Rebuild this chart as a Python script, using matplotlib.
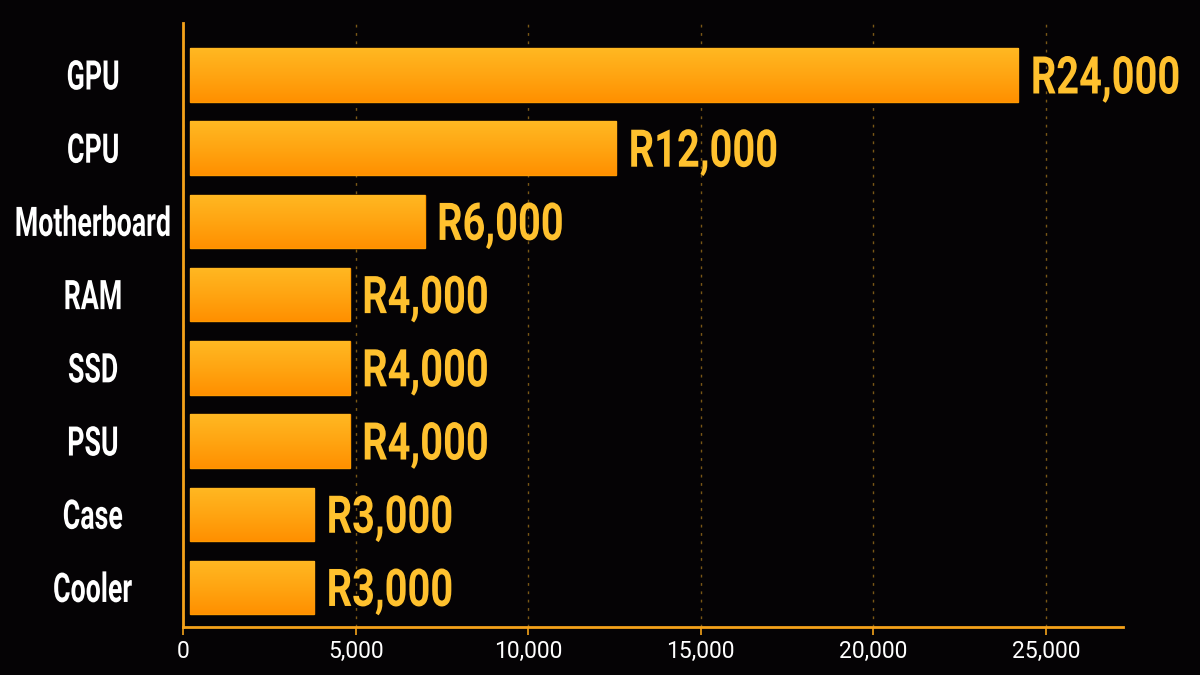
import numpy as np
import matplotlib.pyplot as plt
from matplotlib.colors import LinearSegmentedColormap
from matplotlib.textpath import TextPath
from matplotlib.patches import PathPatch
from matplotlib.font_manager import FontProperties
from matplotlib.transforms import Affine2D

# data
parts = ["GPU", "CPU", "Motherboard", "RAM", "SSD", "PSU", "Case", "Cooler"]
bar_lengths = [24200, 12550, 7000, 4830, 4830, 4830, 3800, 3800]
price_labels = ["R24,000", "R12,000", "R6,000", "R4,000", "R4,000", "R4,000", "R3,000", "R3,000"]
xticks = [0, 5000, 10000, 15000, 20000, 25000]
xtick_labels = ["0", "5,000", "10,000", "15,000", "20,000", "25,000"]

bg = "#050305"
orange = "#F5A21A"
label_gold = "#FFC12E"
bold_font = FontProperties(family=["Roboto", "DejaVu Sans"], weight="bold")

fig = plt.figure(figsize=(12, 6.75), dpi=100, facecolor=bg)
ax = fig.add_axes([0.1525, 0.0711, 0.7833, 0.8948])
ax.set_facecolor(bg)

y = np.arange(len(parts))
gap = 200  # bars start a hair right of the axis line
bars = ax.barh(y, np.array(bar_lengths) - gap, left=gap, height=0.73, color="#FFA60F",
               edgecolor="#FF9A00", linewidth=1, zorder=2)

# vertical gradient on each bar
cmap = LinearSegmentedColormap.from_list("bar", ["#FFB822", "#FFA512", "#FF9000"])
grad = np.linspace(0, 1, 100).reshape(-1, 1)
for b in bars:
    x0, y0 = b.get_x(), b.get_y()
    w, h = b.get_width(), b.get_height()
    im = ax.imshow(grad, cmap=cmap, aspect="auto", origin="upper",
                   extent=[x0, x0 + w, y0 + h, y0], zorder=2.5)
    im.set_clip_path(b)
ax.set_xlim(0, 27230)
ax.set_ylim(7.54, -0.71)


def squeezed_scale(ref_text, cap_px, width_px):
    # horizontal / vertical scale so the font looks condensed like the original
    cap = TextPath((0, 0), "H", size=1, prop=bold_font).get_extents().height
    sy = cap_px / cap
    wid = TextPath((0, 0), ref_text, size=1, prop=bold_font).get_extents().width
    sx = width_px / wid
    return sx, sy


def draw_text(s, px, py, sx, sy, ha, color):
    tp = TextPath((0, 0), s, size=1, prop=bold_font)
    ext = tp.get_extents()
    cap = TextPath((0, 0), "H", size=1, prop=bold_font).get_extents().height
    if ha == "left":
        dx = px - ext.x0 * sx
    else:
        dx = px - (ext.x0 + ext.width / 2) * sx
    dy = py - cap * sy / 2
    tr = Affine2D().scale(sx, sy).translate(dx, dy)
    fig.add_artist(PathPatch(tp, transform=tr, facecolor=color, edgecolor="none", zorder=6))


val_sx, val_sy = squeezed_scale("R24,000", 37, 145)
cat_sx, cat_sy = squeezed_scale("Motherboard", 29, 153)

axis_left_px = ax.transData.transform((0, 0))[0]
for yi, w, txt, name in zip(y, bar_lengths, price_labels, parts):
    bx, by = ax.transData.transform((w, yi))
    draw_text(txt, bx + 15, by, val_sx, val_sy, "left", label_gold)
    draw_text(name, axis_left_px - 90, by, cat_sx, cat_sy, "center", "white")

ax.set_xticks(xticks)
ax.set_xticklabels(xtick_labels, color="white", fontsize=16.5, family=["Roboto", "DejaVu Sans"])
ax.set_yticks(y)
ax.set_yticklabels([])
ax.tick_params(axis="y", length=0)
ax.tick_params(axis="x", length=6, color=orange, width=1.2, pad=3)

ax.grid(axis="x", linestyle=(0, (2, 4)), color="#7a5816", linewidth=1, zorder=1)
ax.set_axisbelow(True)

for s in ["top", "right"]:
    ax.spines[s].set_visible(False)
for s in ["left", "bottom"]:
    ax.spines[s].set_color(orange)
    ax.spines[s].set_linewidth(2)
    ax.spines[s].set_zorder(5)

plt.savefig("out.png", dpi=100, facecolor=bg)
